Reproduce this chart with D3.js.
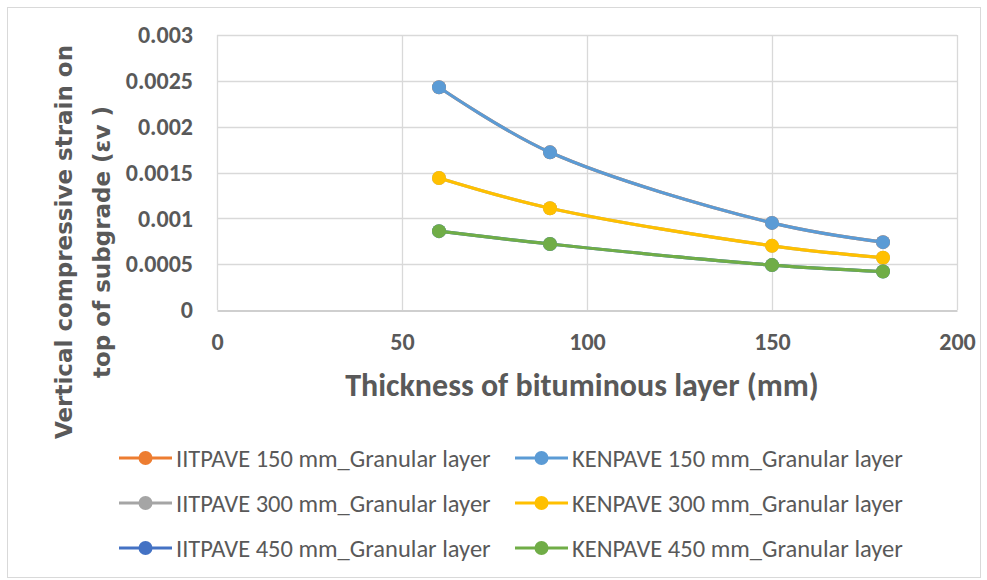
<!DOCTYPE html>
<html>
<head>
<meta charset="utf-8">
<script src="https://cdn.jsdelivr.net/npm/d3@7"></script>
<style>
  body { margin: 0; background: #fff; }
  text { font-family: Carlito, Lato, "Liberation Sans", sans-serif; }
</style>
</head>
<body>
<svg id="chart" width="987" height="580"></svg>
<script>
// bituminous layer thickness (mm)
var thickness = [60, 90, 150, 180];

// vertical compressive strain on top of subgrade
var iit150 = [0.00243, 0.00172, 0.00095, 0.00074];
var ken150 = [0.00243, 0.00172, 0.00095, 0.00074];
var iit300 = [0.00144, 0.00111, 0.00070, 0.00057];
var ken300 = [0.00144, 0.00111, 0.00070, 0.00057];
var iit450 = [0.00086, 0.00072, 0.00049, 0.00042];
var ken450 = [0.00086, 0.00072, 0.00049, 0.00042];

var seriesNames = [
  "IITPAVE 150 mm_Granular layer", "KENPAVE 150 mm_Granular layer",
  "IITPAVE 300 mm_Granular layer", "KENPAVE 300 mm_Granular layer",
  "IITPAVE 450 mm_Granular layer", "KENPAVE 450 mm_Granular layer"
];
var seriesValues = [iit150, ken150, iit300, ken300, iit450, ken450];
var seriesColors = ["#ED7D31", "#5B9BD5", "#A5A5A5", "#FFC000", "#4472C4", "#70AD47"];

var xTicks = [0, 50, 100, 150, 200];
var yTicks = [0, 0.0005, 0.001, 0.0015, 0.002, 0.0025, 0.003];

var svg = d3.select("#chart");

// chart outline
svg.append("rect")
  .attr("x", 7.5).attr("y", 7.5)
  .attr("width", 973).attr("height", 570)
  .attr("fill", "#fff")
  .attr("stroke", "#D9D9D9");

var x = d3.scaleLinear().domain([0, 200]).range([217, 957]);
var y = d3.scaleLinear().domain([0, 0.003]).range([310, 35]);

// gridlines
svg.append("g").selectAll("line.h")
  .data(yTicks.slice(1))
  .enter().append("line")
    .attr("x1", x(0)).attr("x2", x(200))
    .attr("y1", function(d) { return Math.round(y(d)) + 0.5; })
    .attr("y2", function(d) { return Math.round(y(d)) + 0.5; })
    .attr("stroke", "#D9D9D9").attr("stroke-width", 1.3);

svg.append("g").selectAll("line.v")
  .data(xTicks)
  .enter().append("line")
    .attr("x1", function(d) { return Math.round(x(d)) + 0.5; })
    .attr("x2", function(d) { return Math.round(x(d)) + 0.5; })
    .attr("y1", y(0.003)).attr("y2", y(0))
    .attr("stroke", "#D9D9D9").attr("stroke-width", 1.3);

// axes (labels only, Excel style)
var xAxis = svg.append("g")
  .attr("transform", "translate(0," + (Math.round(y(0)) + 0.5) + ")")
  .call(d3.axisBottom(x).tickValues(xTicks).tickSize(0).tickPadding(22).tickFormat(d3.format("d")));
xAxis.select(".domain").attr("stroke", "#BFBFBF").attr("stroke-width", 1.3);
xAxis.selectAll("text")
  .attr("fill", "#595959").attr("font-size", 24).attr("font-weight", "bold")
  .style("font-family", "Carlito, Lato, sans-serif");

var yAxis = svg.append("g")
  .attr("transform", "translate(" + (x(0) - 24) + ",0)")
  .call(d3.axisLeft(y).tickValues(yTicks).tickSize(0).tickPadding(0)
    .tickFormat(function(d) { return d === 0 ? "0" : String(+d.toFixed(4)); }));
yAxis.select(".domain").remove();
yAxis.selectAll("text")
  .attr("fill", "#595959").attr("font-size", 24).attr("font-weight", "bold")
  .style("font-family", "Carlito, Lato, sans-serif");

// axis titles
svg.append("text")
  .attr("x", 582).attr("y", 396)
  .attr("text-anchor", "middle")
  .attr("fill", "#595959").attr("font-size", 32).attr("font-weight", "bold")
  .text("Thickness of bituminous layer (mm)");

var yTitle = svg.append("g")
  .attr("transform", "translate(0,242) rotate(-90)");
yTitle.append("text")
  .attr("x", 0).attr("y", 72)
  .attr("text-anchor", "middle")
  .attr("fill", "#595959").attr("font-size", 23).attr("font-weight", "bold")
  .style("font-family", "'DejaVu Sans', Verdana, sans-serif")
  .text("Vertical compressive strain on");
yTitle.append("text")
  .attr("x", 0).attr("y", 110)
  .attr("text-anchor", "middle")
  .attr("fill", "#595959").attr("font-size", 23).attr("font-weight", "bold")
  .style("font-family", "'DejaVu Sans', Verdana, sans-serif")
  .text("top of subgrade (εv )");

// series
var line = d3.line()
  .x(function(d) { return x(d[0]); })
  .y(function(d) { return y(d[1]); })
  .curve(d3.curveCatmullRom.alpha(0.5));

seriesValues.forEach(function(vals, i) {
  var pts = thickness.map(function(t, j) { return [t, vals[j]]; });
  svg.append("path")
    .datum(pts)
    .attr("d", line)
    .attr("fill", "none")
    .attr("stroke", seriesColors[i])
    .attr("stroke-width", 3.2)
    .attr("stroke-linecap", "round");
  svg.append("g").selectAll("circle")
    .data(pts)
    .enter().append("circle")
      .attr("cx", function(d) { return x(d[0]); })
      .attr("cy", function(d) { return y(d[1]); })
      .attr("r", 7)
      .attr("fill", seriesColors[i]);
});

// legend
var legend = svg.append("g");
seriesNames.forEach(function(name, i) {
  var col = i % 2, row = Math.floor(i / 2);
  var lx = col === 0 ? 119 : 515;
  var ly = 458 + row * 45;
  var item = legend.append("g").attr("transform", "translate(" + lx + "," + ly + ")");
  item.append("line")
    .attr("x1", 0).attr("x2", 53).attr("y1", 0).attr("y2", 0)
    .attr("stroke", seriesColors[i]).attr("stroke-width", 3.2);
  item.append("circle")
    .attr("cx", 26.5).attr("cy", 0).attr("r", 7)
    .attr("fill", seriesColors[i]);
  item.append("text")
    .attr("x", 57).attr("y", 0).attr("dy", "0.35em")
    .attr("fill", "#595959").attr("font-size", 24.5)
    .text(name);
});
</script>
</body>
</html>
